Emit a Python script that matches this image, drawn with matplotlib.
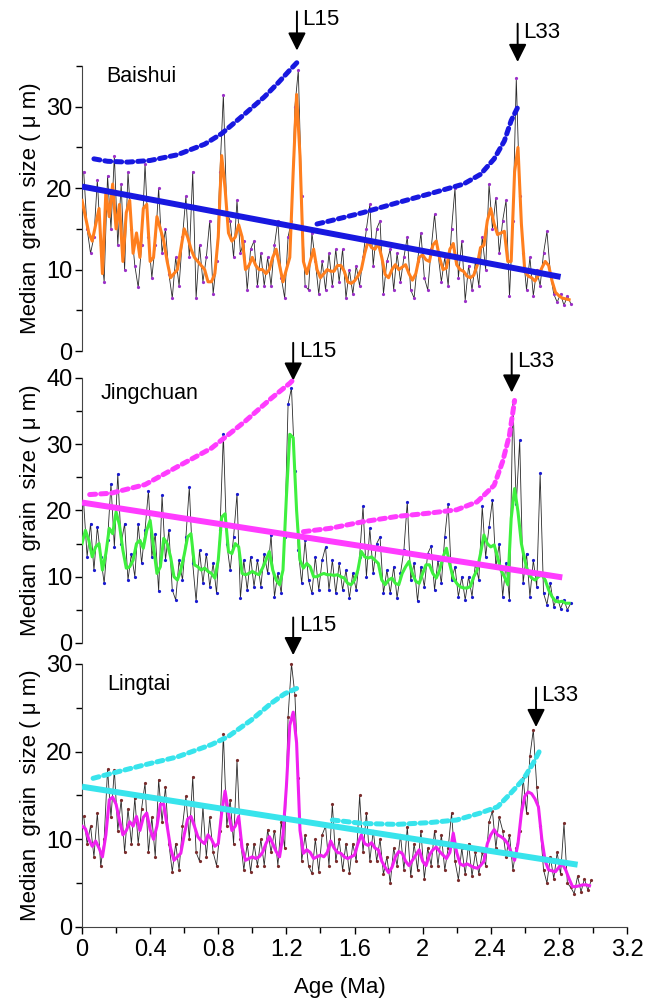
import numpy as np
import matplotlib
matplotlib.use("Agg")
import matplotlib.pyplot as plt
from matplotlib.ticker import MultipleLocator

plt.rcParams["font.family"] = ["Liberation Sans", "DejaVu Sans"]

# ---------------- data ----------------
# smoothed records start at 0 Ma, 0.02 Ma step; raw records start at 0.01 Ma, 0.02 Ma step
BAISHUI_SMOOTH = [
    18.5, 16.5, 14.5, 13.5, 15.5, 17.5, 9.5, 19.5, 16.5, 20.5,
    15.0, 18.0, 11.0, 17.0, 18.5, 12.0, 14.5, 11.5, 17.5, 18.0,
    11.0, 11.5, 16.5, 15.0, 13.5, 11.0, 9.0, 9.5, 10.0, 12.5,
    15.0, 14.0, 12.5, 11.5, 11.0, 10.5, 10.0, 8.5, 8.5, 9.5,
    14.0, 24.0, 20.0, 14.5, 13.5, 14.0, 15.5, 14.0, 10.0, 10.5,
    11.5, 10.5, 10.0, 10.0, 9.5, 10.0, 11.5, 12.5, 10.5, 8.5,
    10.0, 11.5, 22.0, 31.5, 24.0, 11.0, 9.5, 11.0, 12.5, 10.0,
    9.0, 9.5, 10.0, 9.8, 9.8, 10.5, 10.5, 9.8, 8.5, 8.3,
    8.6, 9.2, 10.0, 12.0, 13.5, 12.7, 12.5, 13.2, 11.5, 9.4,
    9.0, 10.0, 10.6, 10.0, 10.3, 10.6, 9.5, 8.7, 9.5, 11.5,
    11.8, 11.2, 11.0, 13.0, 13.5, 11.4, 10.0, 10.2, 12.5, 13.2,
    10.6, 10.0, 9.8, 9.2, 9.0, 9.3, 10.5, 12.7, 13.0, 16.0,
    17.5, 15.6, 14.3, 14.5, 14.7, 11.0, 11.0, 22.0, 25.0, 15.6,
    9.8, 9.2, 9.0, 8.6, 9.3, 10.2, 11.0, 10.5, 8.6, 7.2,
    6.8, 6.5, 6.4, 6.3,
]
BAISHUI_RAW = [
    22.0, 15.0, 12.0, 14.0, 21.0, 13.0, 8.5, 21.5, 15.0, 24.0,
    13.0, 20.5, 10.0, 22.0, 15.0, 10.5, 7.8, 13.0, 23.0, 14.0,
    9.0, 13.0, 20.0, 12.0, 15.0, 9.5, 6.5, 11.5, 8.0, 14.0,
    19.0, 11.5, 22.0, 6.5, 13.0, 8.5, 11.5, 16.0, 7.0, 11.0,
    22.0, 31.5, 17.0, 16.0, 11.5, 18.5, 12.0, 13.5, 7.5, 12.5,
    13.5, 8.0, 12.0, 8.0, 11.5, 8.0, 13.0, 16.0, 9.0, 6.5,
    14.0, 16.0, 30.0, 34.5, 19.0, 8.0, 7.5, 14.5, 11.0, 7.0,
    11.0, 7.5, 12.0, 8.0, 12.5, 8.5, 12.5, 6.5, 10.0, 7.0,
    10.5, 8.0, 11.5, 15.0, 18.0, 10.5, 15.0, 16.0, 7.0, 11.0,
    12.5, 7.5, 12.0, 8.5, 11.5, 14.0, 7.5, 6.5, 11.0, 14.5,
    9.0, 7.5, 12.5, 16.8, 12.0, 8.5, 11.5, 8.0, 15.0, 20.0,
    9.0, 13.5, 6.2, 10.5, 7.5, 11.0, 8.0, 14.0, 10.0, 20.5,
    15.0, 18.8, 12.0, 16.0, 18.5, 6.7, 16.0, 33.5, 19.0, 12.0,
    7.5, 11.5, 6.8, 10.0, 8.0, 12.0, 14.7, 9.5, 7.0, 6.0,
    7.0, 5.6, 6.8, 5.8,
]

JINGCHUAN_SMOOTH = [
    15.0, 17.0, 15.5, 13.0, 14.5, 15.0, 11.0, 13.5, 17.3, 16.5,
    19.8, 17.8, 14.0, 11.3, 11.5, 12.5, 15.0, 15.5, 14.3, 17.0,
    18.5, 14.5, 10.5, 11.5, 15.8, 15.0, 13.0, 10.0, 9.5, 11.0,
    13.3, 16.0, 16.5, 11.8, 11.5, 11.0, 11.3, 10.8, 10.5, 9.8,
    12.5, 19.0, 19.5, 13.8, 13.5, 15.0, 14.5, 10.5, 10.3, 10.5,
    10.8, 10.5, 10.3, 11.3, 12.5, 13.8, 11.0, 9.5, 8.8, 11.0,
    22.0, 31.5, 31.0, 20.0, 12.5, 11.3, 12.0, 11.5, 10.0, 10.0,
    10.3, 10.5, 10.3, 10.3, 10.2, 10.3, 10.0, 9.8, 9.0, 8.8,
    9.5, 11.0, 13.8, 13.0, 12.8, 13.0, 12.5, 12.0, 9.5, 8.8,
    9.5, 9.8, 9.0, 8.8, 10.5, 11.5, 12.3, 10.5, 9.3, 9.0,
    10.5, 11.8, 11.8, 10.5, 9.8, 11.0, 13.0, 14.3, 11.8, 9.8,
    9.0, 8.5, 8.3, 8.3, 8.5, 10.0, 11.0, 13.5, 16.3, 15.0,
    14.5, 14.8, 13.0, 11.0, 10.0, 8.8, 18.8, 23.3, 19.8, 15.0,
    12.5, 10.5, 9.8, 9.5, 10.0, 10.3, 9.5, 8.0, 7.0, 6.3,
    6.2, 6.3, 6.0, 6.0,
]
JINGCHUAN_RAW = [
    21.0, 13.0, 18.0, 11.0, 17.5, 13.0, 9.0, 15.5, 24.0, 14.5,
    25.5, 15.0, 18.0, 9.5, 13.5, 10.0, 18.0, 12.0, 17.0, 23.0,
    13.0, 16.5, 7.8, 22.3, 12.5, 17.0, 8.0, 6.5, 12.5, 9.5,
    16.0, 23.5, 12.0, 6.3, 14.0, 9.0, 13.5, 8.5, 12.0, 7.5,
    17.0, 31.5, 15.0, 11.0, 16.0, 22.5, 6.8, 12.5, 8.0, 13.0,
    8.5, 12.5, 8.5, 13.5, 10.5, 16.3, 7.0, 10.5, 7.5, 16.0,
    36.0, 38.5, 26.0, 14.0, 9.0, 15.5, 9.5, 7.5, 13.0, 8.0,
    12.5, 14.5, 8.0, 12.5, 7.5, 12.0, 8.0, 11.0, 6.8, 10.5,
    8.0, 13.0, 20.6, 10.0, 17.3, 10.5, 15.0, 16.0, 7.5, 11.0,
    7.5, 11.5, 6.8, 10.5, 14.0, 21.3, 9.5, 12.0, 6.3, 11.5,
    8.5, 13.5, 14.6, 8.0, 12.5, 9.0, 16.0, 21.0, 9.5, 11.5,
    7.0, 10.0, 6.5, 10.0, 7.0, 12.0, 9.5, 20.6, 13.0, 17.5,
    21.6, 11.5, 15.0, 7.0, 12.0, 6.5, 36.5, 21.0, 30.6, 9.0,
    13.5, 7.0, 12.5, 8.5, 25.6, 7.5, 5.8, 9.0, 5.5, 7.0,
    5.2, 6.5, 5.0, 6.0,
]

LINGTAI_SMOOTH = [
    11.5, 11.2, 10.0, 9.2, 9.8, 9.0, 8.0, 10.5, 14.5, 14.8,
    14.0, 12.2, 10.5, 11.0, 12.0, 11.5, 12.6, 11.0, 12.5, 13.0,
    11.1, 10.0, 11.5, 14.0, 14.0, 11.5, 9.0, 7.6, 8.0, 8.4,
    10.5, 12.3, 12.6, 11.5, 10.3, 9.8, 9.5, 10.5, 10.0, 9.2,
    9.5, 13.0, 15.5, 13.0, 11.0, 11.5, 12.6, 9.0, 7.6, 7.8,
    8.0, 7.8, 8.0, 8.5, 9.5, 10.3, 9.5, 8.6, 8.0, 10.5,
    16.0, 23.0, 24.5, 21.0, 11.0, 8.4, 8.8, 8.5, 7.8, 8.0,
    8.2, 8.0, 8.5, 9.8, 9.0, 8.5, 8.4, 8.0, 7.8, 8.0,
    8.2, 9.5, 10.5, 9.5, 9.3, 9.6, 9.0, 8.8, 7.5, 6.8,
    6.2, 6.8, 8.0, 8.6, 8.4, 7.5, 7.0, 7.6, 8.2, 8.8,
    7.5, 7.0, 8.2, 8.8, 9.1, 8.6, 8.2, 7.8, 8.5, 10.7,
    8.5, 7.2, 7.0, 7.2, 7.0, 6.8, 6.7, 7.0, 7.5, 9.5,
    10.5, 11.1, 10.5, 10.3, 10.0, 9.5, 8.5, 7.6, 9.5, 13.0,
    14.9, 15.4, 15.2, 14.6, 13.7, 10.0, 7.5, 6.5, 6.4, 6.3,
    6.8, 7.2, 6.5, 5.5, 4.6, 4.6, 4.7, 4.8, 4.8, 4.7,
]
LINGTAI_RAW = [
    12.6, 9.5, 11.5, 8.0, 13.0, 6.9, 10.0, 18.0, 12.5, 17.9,
    11.0, 14.5, 8.5, 13.5, 9.5, 14.7, 9.5, 13.5, 16.4, 8.5,
    12.5, 8.0, 16.8, 12.0, 16.0, 9.5, 6.3, 9.5, 6.5, 11.5,
    14.9, 10.0, 17.1, 8.5, 7.5, 13.7, 8.0, 12.5, 8.5, 7.0,
    11.0, 22.0, 11.5, 14.5, 9.5, 19.0, 10.0, 6.5, 9.5, 6.3,
    9.5, 7.0, 10.0, 7.0, 11.1, 8.5, 11.0, 7.0, 12.0, 9.0,
    24.0, 30.0, 26.5, 17.0, 7.5, 10.5, 7.0, 6.1, 10.0, 6.3,
    10.5, 11.5, 7.0, 14.0, 7.5, 10.0, 6.5, 9.5, 6.2, 9.5,
    7.5, 15.0, 8.5, 13.0, 7.5, 11.0, 7.5, 10.0, 6.0, 8.0,
    5.0, 9.0, 7.0, 10.5, 6.5, 11.4, 5.8, 9.5, 6.5, 11.0,
    5.5, 9.0, 7.0, 11.0, 7.0, 10.5, 6.5, 9.0, 13.0, 7.5,
    5.4, 9.0, 6.0, 9.5, 5.8, 8.5, 6.0, 8.5, 7.0, 12.0,
    13.2, 9.0, 12.5, 11.0, 8.0, 10.5, 6.5, 9.0, 11.0, 17.0,
    13.0, 19.5, 22.5, 16.0, 11.5, 6.5, 5.0, 8.0, 5.5, 8.5,
    6.0, 11.8, 5.0, 4.5, 3.8, 5.8, 4.0, 5.5, 4.2, 5.3,
]

# linear trends (end points) and upper envelope curves
BAISHUI_TREND_AGE = [0.0, 2.81]
BAISHUI_TREND = [20.2, 9.1]
BAISHUI_ENV1_AGE = [0.07, 0.15, 0.27, 0.40, 0.56, 0.72, 0.82, 0.955, 1.07, 1.15, 1.22, 1.27]
BAISHUI_ENV1 = [23.6, 23.3, 23.2, 23.4, 24.1, 25.4, 26.7, 29.1, 31.2, 32.9, 34.5, 35.6]
BAISHUI_ENV2_AGE = [1.38, 1.46, 1.65, 1.85, 2.04, 2.24, 2.34, 2.42, 2.48, 2.52, 2.56]
BAISHUI_ENV2 = [15.6, 16.0, 17.0, 18.2, 19.3, 20.5, 21.7, 23.6, 25.8, 28.3, 30.0]

JINGCHUAN_TREND_AGE = [0.0, 2.82]
JINGCHUAN_TREND = [21.2, 9.9]
JINGCHUAN_ENV1_AGE = [0.045, 0.17, 0.37, 0.56, 0.76, 0.955, 1.11, 1.22, 1.24]
JINGCHUAN_ENV1 = [22.4, 22.6, 23.9, 26.6, 29.4, 33.4, 36.9, 39.2, 39.7]
JINGCHUAN_ENV2_AGE = [1.30, 1.456, 1.65, 1.85, 2.04, 2.20, 2.32, 2.42, 2.47, 2.51, 2.54]
JINGCHUAN_ENV2 = [16.8, 17.3, 18.3, 19.1, 19.6, 20.1, 21.3, 23.8, 27.4, 31.4, 36.6]

LINGTAI_TREND_AGE = [0.0, 2.91]
LINGTAI_TREND = [16.0, 7.1]
LINGTAI_ENV1_AGE = [0.065, 0.17, 0.37, 0.56, 0.76, 0.857, 0.994, 1.11, 1.19, 1.26]
LINGTAI_ENV1 = [16.95, 17.5, 18.5, 19.4, 20.8, 21.7, 23.6, 25.5, 26.6, 27.2]
LINGTAI_ENV2_AGE = [1.47, 1.65, 1.85, 2.04, 2.20, 2.34, 2.44, 2.51, 2.59, 2.65, 2.69]
LINGTAI_ENV2 = [12.2, 11.8, 11.7, 11.9, 12.2, 13.0, 13.7, 15.1, 16.8, 18.7, 20.2]

# loess markers: (label, age, arrow top, arrow tip)
BAISHUI_MARKS = [("L15", 1.262, 41.7, 36.9), ("L33", 2.558, 40.2, 35.5)]
JINGCHUAN_MARKS = [("L15", 1.24, 45.3, 39.6), ("L33", 2.523, 43.7, 37.8)]
LINGTAI_MARKS = [("L15", 1.24, 35.3, 31.0), ("L33", 2.666, 27.3, 22.8)]

X_TICKS = [0, 0.4, 0.8, 1.2, 1.6, 2.0, 2.4, 2.8, 3.2]
X_TICK_LABELS = ["0", "0.4", "0.8", "1.2", "1.6", "2", "2.4", "2.8", "3.2"]

TICK_FONT = ["Liberation Sans Narrow", "Liberation Sans", "DejaVu Sans"]


def draw_panel(ax, name, name_xy, smooth, raw, colors, trend, env1, env2, marks, ymax, bottom):
    raw_col, smooth_col, fit_col = colors
    age_s = np.arange(len(smooth)) * 0.02
    age_r = 0.01 + np.arange(len(raw)) * 0.02

    ax.plot(age_r, raw, color="#2a2a2a", lw=0.6, zorder=1, clip_on=False)
    ax.plot(age_r, raw, "o", ms=2.3, mew=0, color=raw_col, zorder=2, clip_on=False)
    ax.plot(age_s, smooth, color=smooth_col, lw=2.2, zorder=3)

    ax.plot(trend[0], trend[1], color=fit_col, lw=4.3, solid_capstyle="butt", zorder=4)
    # envelope curves drawn as short round-capped dashes (beaded look)
    for ea, ev in (env1, env2):
        ax.plot(ea, ev, color=fit_col, lw=3.6, linestyle=(0, (1.2, 1.0)),
                dash_capstyle="round", zorder=5, clip_on=False)

    for lab, x, top, tip in marks:
        ax.annotate("", xy=(x, tip), xytext=(x, top), annotation_clip=False,
                    arrowprops=dict(arrowstyle="-|>,head_length=0.4,head_width=0.2",
                                    color="k", lw=1.4, mutation_scale=27,
                                    shrinkA=0, shrinkB=0))
        ax.annotate(lab, xy=(x, top), xytext=(4, -6), textcoords="offset points",
                    ha="left", va="center", fontsize=16, annotation_clip=False)

    ax.text(name_xy[0], name_xy[1], name, fontsize=15.5, ha="left", va="center")

    ax.set_xlim(0, 3.2)
    ax.set_ylim(0, ymax)
    ax.yaxis.set_major_locator(MultipleLocator(10))
    ax.yaxis.set_minor_locator(MultipleLocator(5))
    ax.tick_params(axis="y", which="major", direction="out", length=5, width=1, pad=2)
    ax.tick_params(axis="y", which="minor", direction="out", length=4, width=1)
    for t in ax.get_yticklabels():
        t.set_family(TICK_FONT)
        t.set_fontsize(17)
    for s in ("top", "right"):
        ax.spines[s].set_visible(False)
    ax.spines["left"].set_color("#444444")
    if bottom:
        ax.set_xticks(X_TICKS)
        ax.set_xticklabels(X_TICK_LABELS, family=TICK_FONT, fontsize=17)
        ax.xaxis.set_minor_locator(MultipleLocator(0.2))
        ax.tick_params(axis="x", which="major", direction="out", length=5, width=1, pad=4)
        ax.tick_params(axis="x", which="minor", direction="out", length=4, width=1)
        ax.spines["bottom"].set_color("#444444")
    else:
        ax.spines["bottom"].set_visible(False)
        ax.set_xticks([])
        ax.xaxis.set_minor_locator(plt.NullLocator())

    ax.set_ylabel("Median  grain  size ( \u03bc m)", fontsize=16)
    ax.yaxis.set_label_coords(-0.075, 0.5)
    ax.patch.set_alpha(0)


fig = plt.figure(figsize=(6.54, 10.02), dpi=100)
ax1 = fig.add_axes([0.1254, 0.6497, 0.8333, 0.2844])
ax2 = fig.add_axes([0.1254, 0.3583, 0.8333, 0.2645])
ax3 = fig.add_axes([0.1254, 0.0749, 0.8333, 0.2625])

draw_panel(ax1, "Baishui", (0.141, 33.7), BAISHUI_SMOOTH, BAISHUI_RAW,
           ("#9b30c8", "#ff7f1e", "#1818e0"),
           (BAISHUI_TREND_AGE, BAISHUI_TREND),
           (BAISHUI_ENV1_AGE, BAISHUI_ENV1), (BAISHUI_ENV2_AGE, BAISHUI_ENV2),
           BAISHUI_MARKS, 35, False)
draw_panel(ax2, "Jingchuan", (0.11, 37.6), JINGCHUAN_SMOOTH, JINGCHUAN_RAW,
           ("#1a1ad0", "#3ef03e", "#ff3cff"),
           (JINGCHUAN_TREND_AGE, JINGCHUAN_TREND),
           (JINGCHUAN_ENV1_AGE, JINGCHUAN_ENV1), (JINGCHUAN_ENV2_AGE, JINGCHUAN_ENV2),
           JINGCHUAN_MARKS, 40, False)
draw_panel(ax3, "Lingtai", (0.147, 27.6), LINGTAI_SMOOTH, LINGTAI_RAW,
           ("#7a2c2c", "#f020f0", "#38e4ec"),
           (LINGTAI_TREND_AGE, LINGTAI_TREND),
           (LINGTAI_ENV1_AGE, LINGTAI_ENV1), (LINGTAI_ENV2_AGE, LINGTAI_ENV2),
           LINGTAI_MARKS, 30, True)

fig.text(340 / 654, 1 - 987 / 1002, "Age (Ma)", ha="center", va="center", fontsize=16)

fig.savefig("out.png", dpi=100)
